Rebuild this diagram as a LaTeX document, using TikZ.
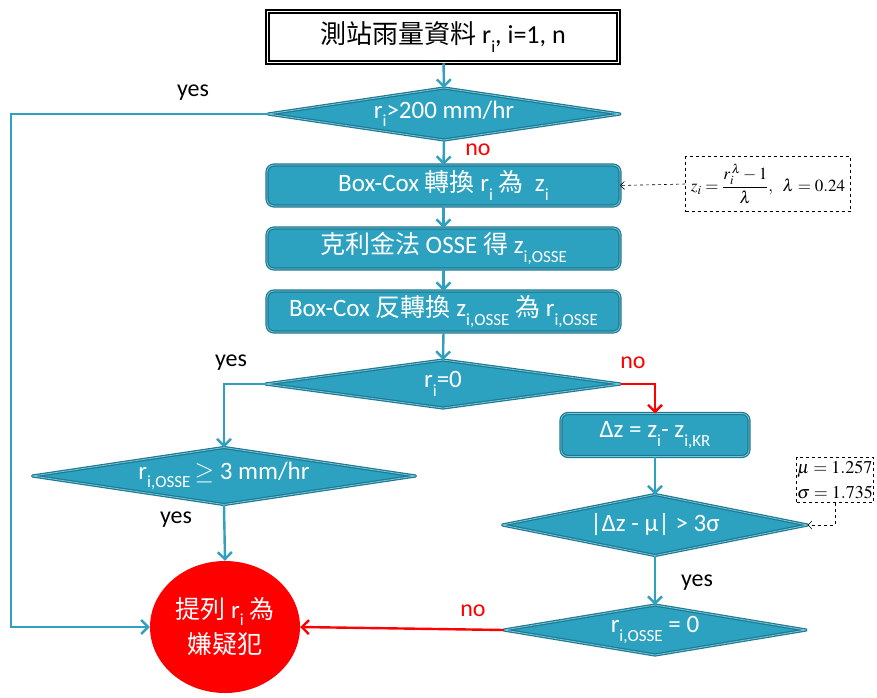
\documentclass[tikz,border=0pt]{standalone}
\usepackage{mathptmx}
\usepackage[no-math]{fontspec}
\setmainfont{Carlito}
\newfontfamily\cjk{Noto Sans CJK TC}
\usetikzlibrary{shapes.geometric,arrows.meta}
\definecolor{tealfill}{RGB}{44,162,192}
\definecolor{tealdark}{RGB}{30,120,145}
\definecolor{teallight}{RGB}{120,200,220}
\definecolor{lineteal}{RGB}{49,160,192}
\newcommand\sbx[1]{\raisebox{-0.34em}{\fontsize{17}{17}\selectfont #1}}
\begin{document}
\begin{tikzpicture}[x=1pt,y=-1pt,
  proc/.style={rectangle, rounded corners=7pt, fill=tealfill, draw=tealdark, double=teallight,
    line width=1.2pt, double distance=0.8pt, text=white, font=\fontsize{25}{28}\selectfont,
    inner sep=0pt, outer sep=0pt},
  dec/.style={diamond, fill=tealfill, draw=tealdark, double=teallight, line join=round,
    line width=1.2pt, double distance=0.8pt, inner sep=0pt, outer sep=0pt},
  dlab/.style={text=white, font=\fontsize{25}{28}\selectfont, inner sep=0pt},
  arr/.style={draw=lineteal, line width=2.4pt, -{Straight Barb[length=7pt,width=14pt]}},
  redarr/.style={draw=red, line width=2.4pt, -{Straight Barb[length=7pt,width=14pt]}},
  dasharr/.style={draw=black, dashed, line width=0.6pt, -{Straight Barb[length=4pt,width=8pt]}},
  lbl/.style={font=\fontsize{24}{28}\selectfont, inner sep=0pt},
  nolbl/.style={lbl, text=red},
  mathbox/.style={draw=black, dashed, line width=0.6pt, fill=white, inner sep=1pt}
]
\useasboundingbox (0,0) rectangle (877,697);

% nodes
\node[draw=black, double=white, line width=1.5pt, double distance=1.2pt, fill=white,
  minimum width=351, minimum height=51, inner sep=0pt, font=\fontsize{26}{30}\selectfont]
  (b1) at (443,37) {{\cjk 測站雨量資料} r\sbx{i}, i=1, n};

\node[dec, minimum width=352, minimum height=52, label={[dlab]center:r\sbx{i}>200 mm/hr}] (d1) at (444,114) {};

\node[proc, minimum width=353, minimum height=41] (b2) at (443.5,185.5)
  {Box-Cox {\cjk 轉換} r\sbx{i} {\cjk 為}\ \ z\sbx{i}};
\node[proc, minimum width=353, minimum height=41] (b3) at (443.5,248.5)
  {{\cjk 克利金法} OSSE {\cjk 得} z\sbx{i,OSSE}};
\node[proc, minimum width=353, minimum height=41] (b4) at (443.5,311.5)
  {Box-Cox {\cjk 反轉換} z\sbx{i,OSSE} {\cjk 為} r\sbx{i,OSSE}};

\node[dec, minimum width=355, minimum height=48, label={[dlab]center:r\sbx{i}=0}] (d2) at (443,384) {};
\node[dec, minimum width=383, minimum height=57, label={[dlab]center:r\sbx{i,OSSE}\,$\geq$ 3 mm/hr}] (d3) at (224,476) {};

\node[proc, minimum width=188, minimum height=43] (b5) at (655,435)
  {Δz = z\sbx{i}- z\sbx{i,KR}};

\node[dec, minimum width=305, minimum height=61, label={[dlab]center:|Δz - μ| > 3σ}] (d4) at (655,525) {};
\node[dec, minimum width=302, minimum height=50, label={[dlab]center:r\sbx{i,OSSE} = 0}] (d5) at (655,630) {};

\node[ellipse, fill=red, minimum width=150, minimum height=132, inner sep=0pt, align=center,
  text=white, font=\fontsize{25}{33}\selectfont] (circ) at (225,627)
  {{\cjk 提列} r\raisebox{-0.25em}{\fontsize{17}{17}\selectfont i} {\cjk 為}\\[2pt]{\cjk 嫌疑犯}};

\node[mathbox, minimum width=165, minimum height=55, font=\fontsize{17}{21}\selectfont] (m1) at (768,184)
  {$z_i=\displaystyle\frac{r_i^{\,\lambda}-1}{\lambda},\ \ \lambda=0.24$};
\node[mathbox, minimum width=75, minimum height=45, align=left, inner sep=0.5pt,
  font=\fontsize{18}{22}\selectfont] (m2) at (835,480)
  {$\mu=1.257$\\[3pt]$\sigma=1.735$};

\coordinate (c1) at (11,114);
\coordinate (c2) at (835,525);

% connectors
\draw[arr] (b1) -- (d1.north);
\draw[arr] (d1.south) -- (b2.north);
\draw[arr] (b2) -- (b3);
\draw[arr] (b3) -- (b4);
\draw[arr] (b4.south) -- (d2.north);
\draw[arr] (d2.west) -| (d3.north);
\draw[arr] (d3.south) -- (circ.north);
\draw[arr] (d1.west) -- (c1) |- (circ.west);
\draw[redarr] (d2.east) -| (b5.north);
\draw[arr] (b5.south) -- (d4.north);
\draw[arr] (d4.south) -- (d5.north);
\draw[redarr] (d5.west) -- (circ.east);
\draw[dasharr] (m1.west) -- (b2.east);
\draw[dasharr] (m2.south) -- (c2) -- (d4.east);

% labels
\node[lbl] (y1) at (193,93) {yes};
\node[nolbl] (n1) at (478,150) {no};
\node[lbl] (y2) at (231,363) {yes};
\node[nolbl] (n2) at (633,363) {no};
\node[lbl] (y3) at (176,520) {yes};
\node[lbl] (y4) at (697,583) {yes};
\node[nolbl] (n3) at (473,611) {no};
\end{tikzpicture}
\end{document}
